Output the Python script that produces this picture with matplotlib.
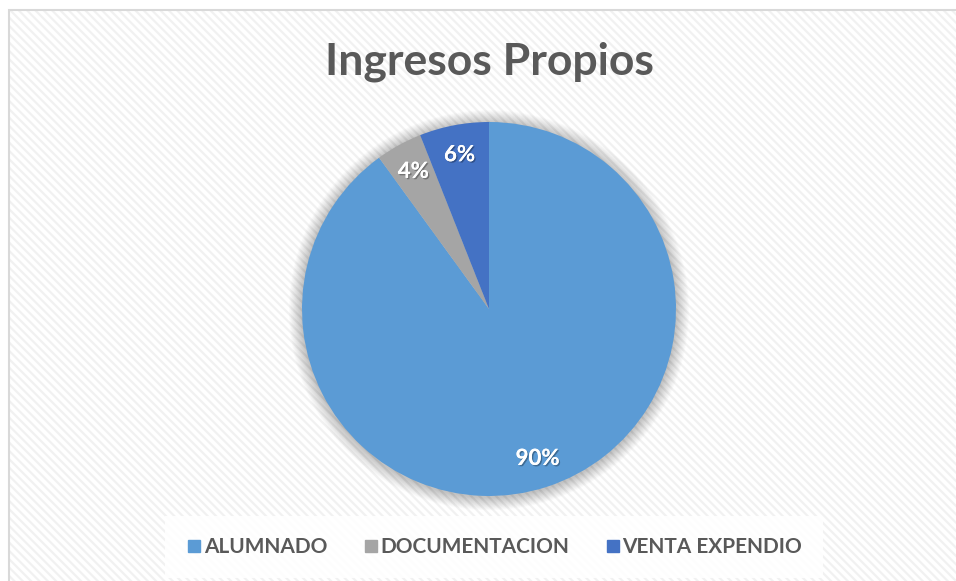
import numpy as np
import matplotlib.pyplot as plt
import matplotlib.patheffects as pe
from matplotlib.patches import Rectangle, Circle
from matplotlib.lines import Line2D

labels = ['ALUMNADO', 'DOCUMENTACION', 'VENTA EXPENDIO']
values = [90, 4, 6]
colors = ['#5B9BD5', '#A5A5A5', '#4472C4']

plt.rcParams['font.family'] = ['Lato', 'DejaVu Sans']
plt.rcParams['hatch.linewidth'] = 1.6

W, H = 956, 581
fig = plt.figure(figsize=(W / 100, H / 100), dpi=100)
fig.patch.set_facecolor('white')

# chart area with faint diagonal stripes
bg = Rectangle((9 / W, 0), 1 - 9 / W, 1 - 10 / H, transform=fig.transFigure,
               facecolor='white', edgecolor='#f1f1f1', hatch='\\\\\\\\', linewidth=0, zorder=-2)
fig.patches.append(bg)
border = Rectangle((9 / W, -0.01), 1, 1 - 10 / H + 0.01, transform=fig.transFigure,
                   facecolor='none', edgecolor='#d9d9d9', linewidth=1.5, zorder=-1)
fig.patches.append(border)

cx, cy, R = 489, 309, 187
k = 1.25
ax = fig.add_axes([(cx - k * R) / W, (H - cy - k * R) / H, 2 * k * R / W, 2 * k * R / H])
ax.set_xlim(-k, k)
ax.set_ylim(-k, k)
ax.set_aspect('equal')
ax.axis('off')
ax.set_zorder(1)

# soft shadow around the pie
n = 20
for i in range(n):
    r = 1.0 + 0.0035 * (n - i)
    ax.add_patch(Circle((0, -0.006), r, facecolor='#000000', alpha=0.012, linewidth=0, zorder=1))

wedges, texts, autotexts = ax.pie(values, colors=colors, startangle=90, counterclock=False,
                                  autopct='%1.0f%%', pctdistance=0.84, radius=1.0,
                                  wedgeprops=dict(linewidth=0, zorder=2),
                                  textprops=dict(color='white', fontsize=16, fontweight='bold'))
for t in autotexts:
    t.set_zorder(5)
    t.set_path_effects([pe.withSimplePatchShadow(offset=(1, -1), shadow_rgbFace='#000000', alpha=0.3),
                        pe.Normal()])

fig.text(cx / W, 1 - 62 / H, 'Ingresos Propios', ha='center', va='center',
         fontsize=32, fontweight='bold', color='#595959')

handles = [Line2D([], [], marker='s', linestyle='none', markersize=8,
                  markerfacecolor=c, markeredgecolor=c) for c in colors]
leg = fig.legend(handles, labels, loc='center', bbox_to_anchor=(494 / W, 1 - 547 / H),
                 ncol=3, frameon=True, fontsize=15, handletextpad=0.05, columnspacing=1.7,
                 borderpad=0.6, handlelength=0.8)
leg.get_frame().set_facecolor('white')
leg.get_frame().set_edgecolor('none')
leg.get_frame().set_alpha(0.9)
leg.get_frame().set_boxstyle('square', pad=0.4)
for t in leg.get_texts():
    t.set_color('#595959')
    t.set_fontweight('bold')

fig.savefig('out.png', dpi=100)
